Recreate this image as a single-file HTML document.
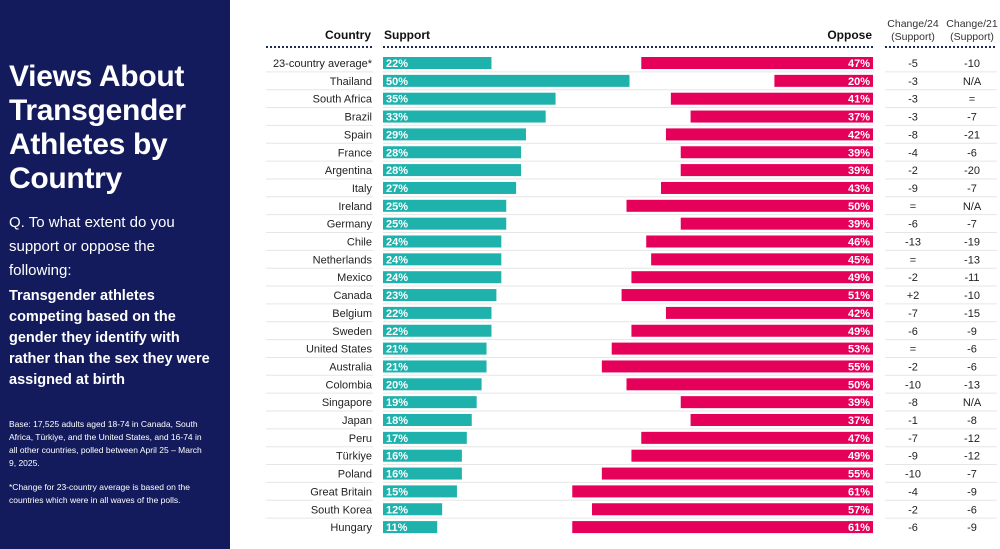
<!DOCTYPE html>
<html><head><meta charset="utf-8"><style>
body{margin:0;width:1000px;height:549px;background:#fff;font-family:"Liberation Sans",sans-serif;overflow:hidden;position:relative}
#panel{position:absolute;left:0;top:0;width:230px;height:549px;background:#141b5c;color:#fff}
#panel .t{position:absolute;left:9px;top:60px;font-size:30px;font-weight:bold;line-height:34px;letter-spacing:-0.3px}
#panel .q{position:absolute;left:9px;top:211px;font-size:15px;line-height:24px;width:210px}
#panel .s{position:absolute;left:9px;top:286px;font-size:14.5px;font-weight:bold;line-height:21px;width:215px}
#panel .b{position:absolute;left:9px;top:418px;font-size:8.5px;line-height:13px;width:200px}
#panel .n{position:absolute;left:9px;top:481px;font-size:8.5px;line-height:13px;width:200px}
svg text{font-family:"Liberation Sans",sans-serif}
</style></head><body>
<div id="panel">
<div class="t">Views About Transgender Athletes by Country</div>
<div class="q">Q. To what extent do you support or oppose the following:</div>
<div class="s">Transgender athletes competing based on the gender they identify with rather than the sex they were assigned at birth</div>
<div class="b">Base: 17,525 adults aged 18-74 in Canada, South Africa, Türkiye, and the United States, and 16-74 in all other countries, polled between April 25 – March 9, 2025.</div>
<div class="n">*Change for 23-country average is based on the countries which were in all waves of the polls.</div>
</div>
<svg id="chart" width="1000" height="549" style="position:absolute;left:0;top:0"></svg>
<script>
const countries=["23-country average*","Thailand","South Africa","Brazil","Spain","France","Argentina","Italy","Ireland","Germany","Chile","Netherlands","Mexico","Canada","Belgium","Sweden","United States","Australia","Colombia","Singapore","Japan","Peru","Türkiye","Poland","Great Britain","South Korea","Hungary"];
const support=[22,50,35,33,29,28,28,27,25,25,24,24,24,23,22,22,21,21,20,19,18,17,16,16,15,12,11];
const oppose=[47,20,41,37,42,39,39,43,50,39,46,45,49,51,42,49,53,55,50,39,37,47,49,55,61,57,61];
const change24=["-5","-3","-3","-3","-8","-4","-2","-9","=","-6","-13","=","-2","+2","-7","-6","=","-2","-10","-8","-1","-7","-9","-10","-4","-2","-6"];
const change21=["-10","N/A","=","-7","-21","-6","-20","-7","N/A","-7","-19","-13","-11","-10","-15","-9","-6","-6","-13","N/A","-8","-12","-12","-7","-9","-6","-9"];
const svg=document.getElementById('chart');const NS='http://www.w3.org/2000/svg';
function mk(t,a,txt){const e=document.createElementNS(NS,t);for(const k in a)e.setAttribute(k,a[k]);if(txt!==undefined)e.textContent=txt;svg.appendChild(e);return e;}
const x0=383,xEnd=873,k=4.93;
const sx=v=>v*k;
const rowY=i=>63+i*17.85;
let h;
h=mk('text',{x:371,y:39,'text-anchor':'end','font-size':12,'font-weight':'bold',fill:'#111'},'Country');

h=mk('text',{x:384,y:39,'font-size':12,'font-weight':'bold',fill:'#111'},'Support');

h=mk('text',{x:872,y:39,'text-anchor':'end','font-size':12,'font-weight':'bold',fill:'#111'},'Oppose');

[[913,'Change/24'],[972,'Change/21']].forEach(([x,t])=>{
 let a=mk('text',{x:x,y:27,'text-anchor':'middle','font-size':10.5,fill:'#333'},t);
 
 let b=mk('text',{x:x,y:40,'text-anchor':'middle','font-size':10.5,fill:'#333'},'(Support)');
 
});
[[266,373],[383,873],[885,997]].forEach(([a,b])=>{
 let l=mk('line',{x1:a,x2:b,y1:47,y2:47,stroke:'#1a2a5a','stroke-width':2,'stroke-dasharray':'2,2'});
 
});
countries.forEach((c,i)=>{
 const y=rowY(i);
 if(i>0){[[266,373],[383,873],[885,997]].forEach(([a,b])=>{
  let s=mk('line',{x1:a,x2:b,y1:y-9,y2:y-9,stroke:'#e6e6e6','stroke-width':1});
  });}
 let t=mk('text',{x:372,y:y+4,'text-anchor':'end','font-size':11,fill:'#222'},c);
 
 let r=mk('rect',{x:x0,y:y-6,width:sx(support[i]),height:12,fill:'#1fb1ab'});
 
 let sl=mk('text',{x:x0+3,y:y+4,'font-size':11,'font-weight':'bold',fill:'#fff'},support[i]+'%');
 
 let o=mk('rect',{x:xEnd-sx(oppose[i]),y:y-6,width:sx(oppose[i]),height:12,fill:'#e5005a'});
 
 let ol=mk('text',{x:xEnd-3,y:y+4,'text-anchor':'end','font-size':11,'font-weight':'bold',fill:'#fff'},oppose[i]+'%');
 
 let c1=mk('text',{x:913,y:y+4,'text-anchor':'middle','font-size':11,fill:'#222'},change24[i]);
 
 let c2=mk('text',{x:972,y:y+4,'text-anchor':'middle','font-size':11,fill:'#222'},change21[i]);
 
});
</script>
</body></html>
